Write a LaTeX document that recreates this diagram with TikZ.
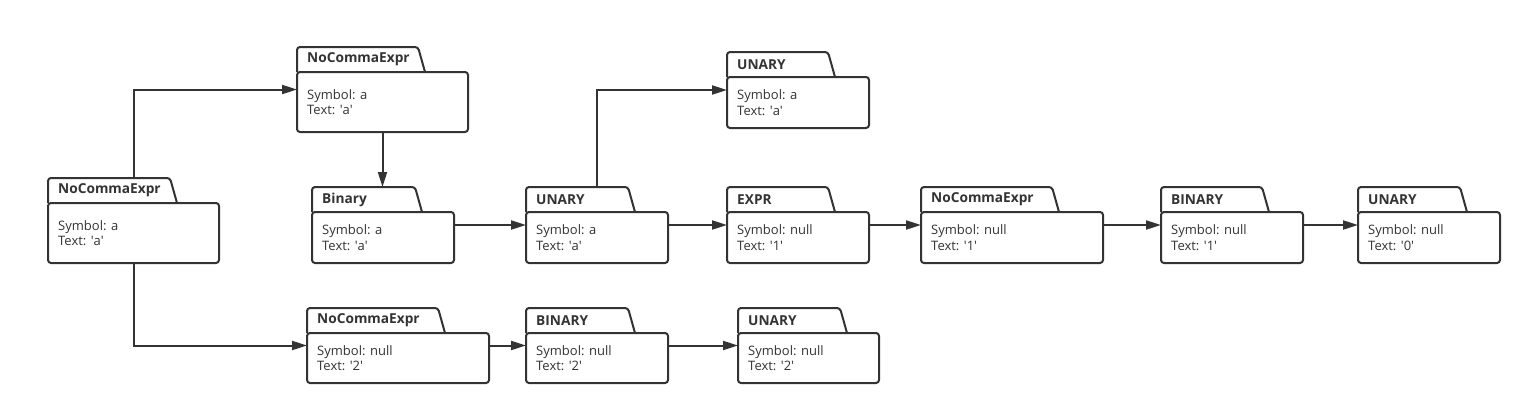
\documentclass[tikz,border=0pt]{standalone}
\usepackage{fontspec}
\setmainfont{Open Sans}
\usetikzlibrary{arrows.meta}
\definecolor{ink}{HTML}{333333}
\newcommand\sq{\textquotesingle}
\tikzset{
  pkgline/.style={draw=ink, line width=2pt, rounded corners=3pt},
  conn/.style={draw=ink, line width=2pt, -{Triangle[length=15pt,width=9pt]}},
  ttl/.style={anchor=west, font=\fontsize{13.7}{15}\selectfont\bfseries, text=ink, inner sep=0pt},
  bodytxt/.style={anchor=west, align=left, font=\fontsize{13}{15.5}\selectfont, text=ink, inner sep=0pt},
  frame/.style={anchor=north west, inner sep=0pt, outer sep=0pt},
}
% name, x, tabtop, width, tabwidth, bodyheight, title, line1, line2
\newcommand\pkgbox[9]{%
  \pgfmathsetmacro\pkgR{#2+#4}%
  \pgfmathsetmacro\pkgT{#3+25}%
  \pgfmathsetmacro\pkgB{#3+25+#6}%
  \pgfmathsetmacro\pkgM{#3+25+#6/2}%
  \pgfmathsetmacro\pkgTR{#2+#5}%
  \pgfmathsetmacro\pkgTS{#2+#5+7}%
  \pgfmathsetmacro\pkgH{25+#6}%
  \node[frame, minimum width=#4pt, minimum height=\pkgH pt] (#1) at (#2,#3) {};
  \draw[pkgline] (#2,\pkgT) -- (#2,#3) -- (\pkgTR,#3) -- (\pkgTS,\pkgT);
  \draw[pkgline] (#2,\pkgT) rectangle (\pkgR,\pkgB);
  \node[ttl] (#1-title) at (#2+10,#3+12.5) {#7};
  \node[bodytxt] (#1-text) at (#2+10,\pkgM) {#8\\#9};
}
\begin{document}
\begin{tikzpicture}[x=1pt,y=-1pt]
\useasboundingbox[fill=white] (0,0) rectangle (1531,415);
\pkgbox{A}{48}{178}{171}{122}{60}{NoCommaExpr}{Symbol: a}{Text: \sq a\sq}
\pkgbox{B}{297}{47}{171}{121}{60}{NoCommaExpr}{Symbol: a}{Text: \sq a\sq}
\pkgbox{C}{312}{187}{142}{103}{51}{Binary}{Symbol: a}{Text: \sq a\sq}
\pkgbox{D}{526}{187}{142}{102}{51}{UNARY}{Symbol: a}{Text: \sq a\sq}
\pkgbox{E}{727}{52}{142}{101}{51}{UNARY}{Symbol: a}{Text: \sq a\sq}
\pkgbox{F}{727}{187}{142}{101}{51}{EXPR}{Symbol: null}{Text: \sq 1\sq}
\pkgbox{G}{921}{187}{182}{131}{51}{NoCommaExpr}{Symbol: null}{Text: \sq 1\sq}
\pkgbox{H}{1161}{187}{142}{101}{51}{BINARY}{Symbol: null}{Text: \sq 1\sq}
\pkgbox{I}{1358}{187}{142}{102}{51}{UNARY}{Symbol: null}{Text: \sq 0\sq}
\pkgbox{J}{307}{308}{182}{131}{50}{NoCommaExpr}{Symbol: null}{Text: \sq 2\sq}
\pkgbox{K}{526}{308}{142}{102}{50}{BINARY}{Symbol: null}{Text: \sq 2\sq}
\pkgbox{L}{738}{308}{141}{102}{50}{UNARY}{Symbol: null}{Text: \sq 2\sq}
\draw[conn] (A.north) |- (B.west);
\draw[conn] (A.south) |- (J.west);
\draw[conn] (B.south) -- (B.south |- C.north);
\draw[conn] (D.north) |- (E.west);
\draw[conn] (C.east) -- (D.west);
\draw[conn] (D.east) -- (F.west);
\draw[conn] (F.east) -- (G.west);
\draw[conn] (G.east) -- (H.west);
\draw[conn] (H.east) -- (I.west);
\draw[conn] (J.east) -- (K.west);
\draw[conn] (K.east) -- (L.west);
\end{tikzpicture}
\end{document}
